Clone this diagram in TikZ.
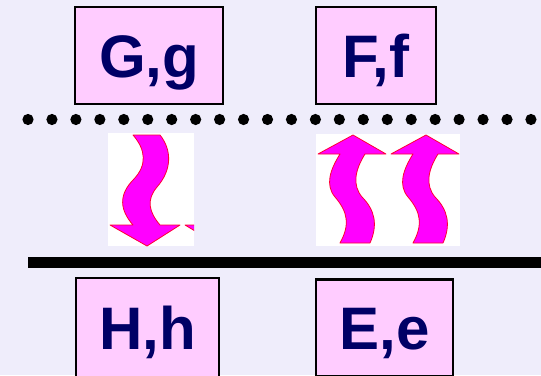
\documentclass[tikz,border=0pt]{standalone}
\usepackage{fontspec}
\setmainfont{Liberation Sans}
\usetikzlibrary{positioning}
\definecolor{bgcol}{HTML}{EFEDFB}
\definecolor{boxcol}{HTML}{FFCCFF}
\definecolor{navy}{HTML}{000066}
\definecolor{wave}{HTML}{FF00FF}
\definecolor{waveline}{HTML}{FF0033}
\begin{document}
\begin{tikzpicture}[x=1pt,y=-1pt,
  gene/.style={draw,line width=2.2pt,fill=boxcol,text=navy,font=\fontsize{60}{62}\selectfont\bfseries,
    text height=43pt,text depth=0pt,inner sep=0pt,minimum height=97pt},
  squig/.style={fill=wave,draw=waveline,line width=0.8pt,line join=round}]
  \fill[bgcol] (0,0) rectangle (541,375);
  \useasboundingbox (0,0) rectangle (541,375);
  % top row
  \node[gene,minimum width=148pt](gG) at (149,55.5){G,g};
  \node[gene,minimum width=120pt,right=91pt of gG](fF){F,f};
  % bottom row
  \node[gene,minimum width=143pt,minimum height=100pt](hH) at (147.5,328){H,h};
  \node[gene,minimum width=137pt,right=95pt of hH](eE){E,e};
  % dotted and solid separators
  \foreach \i in {0,...,21} \fill (28+23.95*\i,119.5) circle (5.6pt);
  \draw[line width=11pt] (28,262.5) -- (541,262.5);
  % squiggly arrows
  \fill[white] (108,133) rectangle (194,246);
  \fill[white] (316,134) rectangle (460,246);
  \draw[squig] (133,135) -- (160,135)
    .. controls (172,150) and (172,170) .. (157,187)
    .. controls (146,200) and (149,212) .. (160,225)
    -- (180,225) -- (147,246) -- (110,225) -- (133,225)
    .. controls (120,210) and (118,195) .. (134,179)
    .. controls (147,165) and (146,150) .. (133,135) -- cycle;
  \begin{scope}
    \clip (108,133) rectangle (194,246);
    \draw[squig] (185,225) -- (200,225) -- (200,234) -- cycle;
  \end{scope}
  \foreach \dx in {0,73}
    \draw[squig,xshift=\dx] (353,135) -- (386,154) -- (365,154)
      .. controls (355,170) and (352,185) .. (362,197)
      .. controls (375,210) and (378,225) .. (370,243)
      -- (340,243)
      .. controls (350,225) and (348,212) .. (335,197)
      .. controls (325,185) and (330,170) .. (340,154)
      -- (318,154) -- cycle;
\end{tikzpicture}
\end{document}
